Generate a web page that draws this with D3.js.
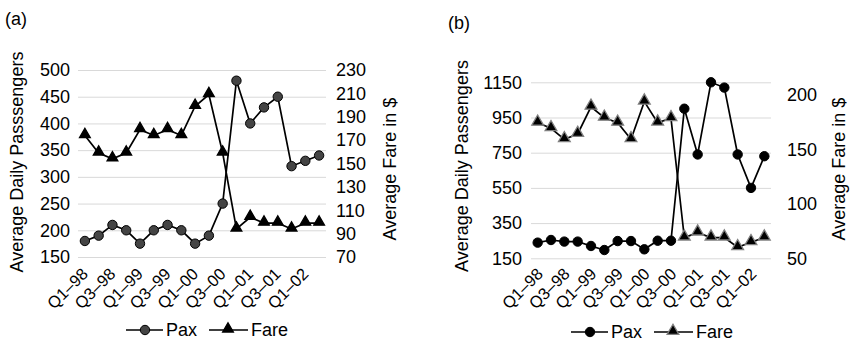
<!DOCTYPE html>
<html>
<head>
<meta charset="utf-8">
<script src="https://cdn.jsdelivr.net/npm/d3@7"></script>
<style>
 body { margin:0; background:#fff; }
 svg text { font-family: "Liberation Sans", Arial, sans-serif; fill:#000; }
 .grid line { stroke:#d9d9d9; stroke-width:1; }
 .grid path { display:none; }
 .ax path, .ax line { display:none; }
</style>
</head>
<body>
<svg id="chart" width="850" height="343"></svg>
<script>
// Data
var quarters = ["Q1–98","Q2–98","Q3–98","Q4–98","Q1–99","Q2–99","Q3–99","Q4–99",
                "Q1–00","Q2–00","Q3–00","Q4–00","Q1–01","Q2–01","Q3–01","Q4–01",
                "Q1–02","Q2–02"];
var paxA  = [180,190,210,200,175,200,210,200,175,190,250,480,400,430,450,320,330,340];
var fareA = [174,159,154,159,179,174,179,174,199,209,159,94,104,99,99,94,99,99];
var paxB  = [239,254,245,245,220,197,248,248,201,250,250,1000,740,1150,1120,740,550,730];
var fareB = [174.5,169.4,159.3,164.2,189.2,179.1,174.5,159.3,193.9,174.6,178.6,69,73.6,69,69,60.1,64.7,69];
var leftTicksA  = [150,200,250,300,350,400,450,500];
var rightTicksA = [70,90,110,130,150,170,190,210,230];
var leftTicksB  = [150,350,550,750,950,1150];
var rightTicksB = [50,100,150,200];

var svg = d3.select("#chart");
var fmt = d3.format("d");

function drawPanel(p){
 var x = d3.scaleBand().domain(quarters).range([p.x0, p.x1]);
 var cx = function(d,i){ return x(quarters[i]) + x.bandwidth()/2; };
 var yL = d3.scaleLinear().domain(p.leftDomain).range([p.yBottom, p.yTop]);
 var yR = d3.scaleLinear().domain(p.rightDomain).range([p.yBottom, p.rightTop]);
 var g = svg.append("g");

 // gridlines
 g.append("g").attr("class","grid")
  .attr("transform","translate(" + p.x0 + ",0)")
  .call(d3.axisLeft(yL).tickValues(p.leftTicks).tickSize(-(p.x1-p.x0)).tickFormat(""));

 // left axis labels
 g.append("g").attr("class","ax")
  .attr("transform","translate(" + (p.x0 - p.leftPad) + ",0)")
  .call(d3.axisLeft(yL).tickValues(p.leftTicks).tickSize(0).tickPadding(0).tickFormat(fmt))
  .selectAll("text").style("font-size","18px");

 // right axis labels
 g.append("g").attr("class","ax")
  .attr("transform","translate(" + (p.x1 + p.rightPad) + ",0)")
  .call(d3.axisRight(yR).tickValues(p.rightTicks).tickSize(0).tickPadding(0).tickFormat(fmt))
  .selectAll("text").style("font-size","18px");

 // x labels, every other quarter
 g.selectAll(".xl").data(quarters.filter(function(d,i){ return i % 2 == 0; }))
  .enter().append("text")
  .attr("text-anchor","end")
  .style("font-size","16.5px")
  .attr("transform", function(d){
    return "translate(" + (x(d) + x.bandwidth()/2 + p.labDx) + "," + (p.yBottom + p.labDy) + ")rotate(-45)";
  })
  .attr("dy","0.35em")
  .text(function(d){ return d; });

 // axis titles
 g.append("text").attr("text-anchor","middle").style("font-size","18px")
  .attr("transform","translate(" + p.leftTitleX + "," + p.leftTitleY + ")rotate(-90)")
  .attr("dy","0.35em").text(p.leftTitle);
 g.append("text").attr("text-anchor","middle").style("font-size","18px")
  .attr("transform","translate(" + p.rightTitleX + "," + p.rightTitleY + ")rotate(-90)")
  .attr("dy","0.35em").text("Average Fare in $");

 g.append("text").attr("x", p.tagX).attr("y", p.tagY).style("font-size","18px").text(p.tag);

 // Pax series
 g.append("path").datum(p.pax)
  .attr("fill","none").attr("stroke","#000").attr("stroke-width",1.7)
  .attr("d", d3.line().x(function(d,i){ return cx(d,i); }).y(function(d){ return yL(d); }));
 // Fare series
 g.append("path").datum(p.fare)
  .attr("fill","none").attr("stroke","#000").attr("stroke-width",1.7)
  .attr("d", d3.line().x(function(d,i){ return cx(d,i); }).y(function(d){ return yR(d); }));

 var tri = d3.symbol().type(d3.symbolTriangle).size(p.triSize);

 g.selectAll(".pm").data(p.pax).enter().append("circle")
  .attr("cx", cx).attr("cy", function(d){ return yL(d); })
  .attr("r", 4.7).attr("fill", p.paxFill).attr("stroke","#000").attr("stroke-width",1);

 g.selectAll(".fm").data(p.fare).enter().append("path")
  .attr("d", tri)
  .attr("transform", function(d,i){ return "translate(" + cx(d,i) + "," + (yR(d) - 1) + ")"; })
  .attr("fill","#000").attr("stroke", p.fareStroke).attr("stroke-width",1.3);

 // legend
 var lg = g.append("g").attr("transform","translate(" + p.legX + "," + p.legY + ")");
 lg.append("line").attr("x1",0).attr("x2",37).attr("stroke","#000").attr("stroke-width",1.7);
 lg.append("circle").attr("cx",19).attr("r",4.7).attr("fill",p.paxFill).attr("stroke","#000");
 lg.append("text").attr("x",40).attr("dy","0.35em").style("font-size","18px").text("Pax");
 lg.append("line").attr("x1",83).attr("x2",122).attr("stroke","#000").attr("stroke-width",1.7);
 lg.append("path").attr("d",tri).attr("transform","translate(102,-1)")
  .attr("fill","#000").attr("stroke",p.fareStroke).attr("stroke-width",1.3);
 lg.append("text").attr("x",125).attr("dy","0.35em").style("font-size","18px").text("Fare");
}

drawPanel({
 x0:78, x1:326, yBottom:257, yTop:70, rightTop:70,
 leftDomain:[150,500], rightDomain:[70,230],
 leftTicks:leftTicksA, rightTicks:rightTicksA, leftPad:8, rightPad:10,
 labDx:0, labDy:14,
 pax:paxA, fare:fareA, paxFill:"#444", fareStroke:"#000", triSize:50,
 leftTitle:"Average Daily Passsengers", leftTitleX:17, leftTitleY:162,
 rightTitleX:390, rightTitleY:169,
 tag:"(a)", tagX:5, tagY:25, legX:126, legY:330
});

drawPanel({
 x0:531, x1:771, yBottom:258.3, yTop:82.3, rightTop:95,
 leftDomain:[150,1150], rightDomain:[50,200],
 leftTicks:leftTicksB, rightTicks:rightTicksB, leftPad:9, rightPad:16,
 labDx:2.3, labDy:12.7,
 pax:paxB, fare:fareB, paxFill:"#000", fareStroke:"#808080", triSize:60,
 leftTitle:"Average Daily Passengers", leftTitleX:462, leftTitleY:166,
 rightTitleX:839, rightTitleY:169,
 tag:"(b)", tagX:448, tagY:29, legX:571, legY:332
});
</script>
</body>
</html>
